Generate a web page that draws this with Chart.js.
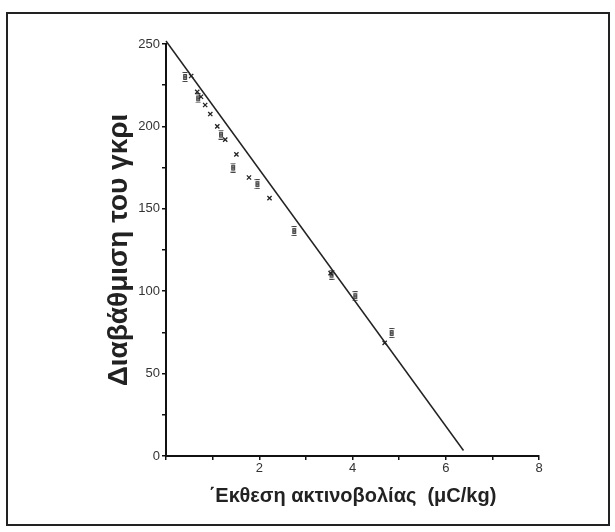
<!DOCTYPE html>
<html>
<head>
<meta charset="utf-8">
<script src="https://cdn.jsdelivr.net/npm/chart.js@4"></script>
<style>
  html, body { margin: 0; padding: 0; background: #fff; }
  #wrap { position: relative; width: 615px; height: 532px; }
  #frame { position: absolute; left: 6px; top: 12px; width: 600px; height: 510px; border: 2px solid #222; pointer-events: none; }
  canvas { position: absolute; left: 0; top: 0; }
</style>
</head>
<body>
<div id="wrap">
  <canvas id="chart" width="615" height="532"></canvas>
  <div id="frame"></div>
</div>
<script>
// Measured points (cross markers)
const crossX = [0.54, 0.67, 0.75, 0.84, 0.95, 1.10, 1.27, 1.51, 1.78, 2.22, 3.53, 4.69];
const crossY = [230.6, 221, 218, 213, 207.5, 200, 192, 183, 169, 156.5, 111, 68.6];

// Measured points (box markers with error caps)
const boxX = [0.41, 0.69, 1.18, 1.44, 1.96, 2.75, 3.55, 4.06, 4.84];
const boxY = [230, 217, 195, 175, 165, 136.5, 110, 97, 74.6];

// Fitted line end points
const lineX = [0, 6.38];
const lineY = [251.8, 3.3];

const xTickLabels = [2, 4, 6, 8];
const yTickLabels = [0, 50, 100, 150, 200, 250];

function toPoints(xs, ys) {
  return xs.map((x, i) => ({ x: x, y: ys[i] }));
}

// small box-with-caps marker
function boxMarker() {
  const c = document.createElement('canvas');
  c.width = 6; c.height = 10;
  const g = c.getContext('2d');
  g.strokeStyle = '#444';
  g.lineWidth = 1;
  g.beginPath();
  g.moveTo(0.5, 0.5); g.lineTo(5.5, 0.5);
  g.moveTo(0.5, 9.5); g.lineTo(5.5, 9.5);
  g.rect(1.5, 2.5, 3, 5);
  g.moveTo(1.5, 2.5); g.lineTo(4.5, 7.5);
  g.moveTo(4.5, 2.5); g.lineTo(1.5, 7.5);
  g.stroke();
  return c;
}

const ctx = document.getElementById('chart').getContext('2d');
new Chart(ctx, {
  type: 'scatter',
  data: {
    datasets: [
      {
        label: 'fit',
        type: 'line',
        data: toPoints(lineX, lineY),
        borderColor: '#222',
        borderWidth: 1.5,
        pointRadius: 0,
        fill: false,
        clip: false
      },
      {
        label: 'cross',
        data: toPoints(crossX, crossY),
        pointStyle: 'crossRot',
        radius: 3,
        borderColor: '#222',
        borderWidth: 1.3
      },
      {
        label: 'box',
        data: toPoints(boxX, boxY),
        pointStyle: boxMarker(),
        radius: 4
      }
    ]
  },
  options: {
    responsive: false,
    animation: false,
    layout: {
      padding: { left: 100, right: 76, top: 44, bottom: 24 }
    },
    scales: {
      x: {
        type: 'linear',
        min: 0,
        max: 8,
        afterFit: function(scale) { scale.height = 52; },
        border: { color: '#111', width: 2 },
        grid: { drawOnChartArea: false, drawTicks: true, tickLength: 4, color: '#111', lineWidth: 1.5 },
        ticks: {
          stepSize: 1,
          padding: 1,
          color: '#333',
          font: { family: 'Liberation Sans, Arial, sans-serif', size: 13 },
          callback: function(value) {
            return xTickLabels.includes(value) ? String(value) : '';
          }
        },
        title: {
          display: true,
          text: '΄Εκθεση ακτινοβολίας  (μC/kg)',
          color: '#222',
          padding: { top: 4, bottom: 0 },
          font: { family: 'Liberation Sans, Arial, sans-serif', size: 20, weight: 'bold' }
        }
      },
      y: {
        type: 'linear',
        min: 0,
        max: 250,
        afterFit: function(scale) { scale.width = 66; },
        border: { color: '#111', width: 2 },
        grid: { drawOnChartArea: false, drawTicks: true, tickLength: 4, color: '#111', lineWidth: 1.5 },
        ticks: {
          stepSize: 25,
          padding: 2,
          color: '#333',
          font: { family: 'Liberation Sans, Arial, sans-serif', size: 13 },
          callback: function(value) {
            return yTickLabels.includes(value) ? String(value) : '';
          }
        },
        title: {
          display: true,
          text: 'Διαβάθμιση του γκρι',
          color: '#222',
          padding: { top: 2, bottom: 0 },
          font: { family: 'Liberation Sans, Arial, sans-serif', size: 28, weight: 'bold' }
        }
      }
    },
    plugins: {
      legend: { display: false },
      tooltip: { enabled: false }
    }
  }
});
</script>
</body>
</html>
